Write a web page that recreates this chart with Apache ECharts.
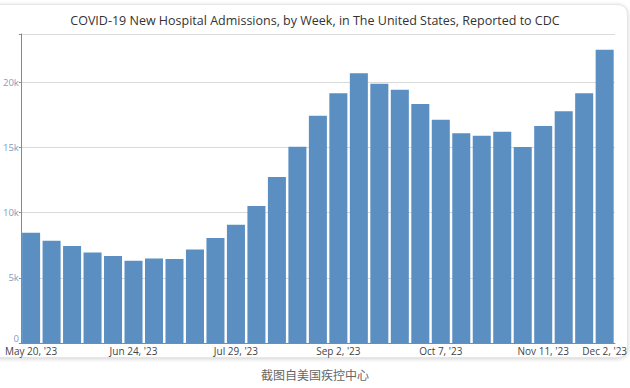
<!DOCTYPE html>
<html>
<head>
<meta charset="utf-8">
<script src="https://cdn.jsdelivr.net/npm/echarts@6/dist/echarts.min.js"></script>
<style>
  html, body { margin: 0; padding: 0; background: #fff; width: 630px; height: 388px; overflow: hidden; }
  #card { position: absolute; left: -12px; top: 4px; width: 638px; height: 352px; border-radius: 10px;
          background: #fff; box-shadow: 0 1px 4px rgba(0,0,0,0.18); border: 1px solid #e6e6e6; }
  #chart { position: absolute; left: 0; top: 0; width: 630px; height: 388px; }
</style>
</head>
<body>
<div id="card"></div>
<div id="chart"></div>
<script>
const titleText = "COVID-19 New Hospital Admissions, by Week, in The United States, Reported to CDC";
const captionText = "截图自美国疾控中心";
const weeks = ["May 20, '23","May 27, '23","Jun 3, '23","Jun 10, '23","Jun 17, '23","Jun 24, '23",
  "Jul 1, '23","Jul 8, '23","Jul 15, '23","Jul 22, '23","Jul 29, '23",
  "Aug 5, '23","Aug 12, '23","Aug 19, '23","Aug 26, '23","Sep 2, '23",
  "Sep 9, '23","Sep 16, '23","Sep 23, '23","Sep 30, '23","Oct 7, '23",
  "Oct 14, '23","Oct 21, '23","Oct 28, '23","Nov 4, '23","Nov 11, '23",
  "Nov 18, '23","Nov 25, '23","Dec 2, '23"];
const admissions = [8460, 7850, 7440, 6950, 6670, 6310, 6490, 6440, 7180, 8050, 9070,
  10500, 12730, 15050, 17430, 19150, 20680, 19890, 19430, 18330, 17120,
  16080, 15900, 16200, 15030, 16640, 17770, 19150, 22490];
const yTickLabels = ["0", "5k", "10k", "15k", "20k"];
const yMax = 23700;
const yStep = 5000;

const labelBase = { color: '#7f9cbf', fontFamily: 'Open Sans', fontSize: 9.5, margin: 2 };

const chart = echarts.init(document.getElementById('chart'), null, { renderer: 'svg' });
chart.setOption({
  animation: false,
  backgroundColor: 'transparent',
  title: [{
    text: titleText, left: 'center', top: 9,
    textStyle: { fontFamily: 'Open Sans', fontSize: 12.5, fontWeight: 'normal', color: '#333' }
  }, {
    text: captionText, left: 'center', top: 363,
    textStyle: { fontFamily: 'Noto Sans CJK SC', fontSize: 12, fontWeight: 'normal', color: '#666' }
  }],
  grid: { left: 18.5, right: 13.7, top: 34, bottom: 45, containLabel: false },
  xAxis: {
    type: 'category', data: weeks,
    axisLine: { lineStyle: { color: '#888' } },
    axisTick: { show: false },
    axisLabel: {
      interval: (i) => i % 5 === 0 || i === weeks.length - 1,
      color: '#444', fontFamily: 'Open Sans', fontSize: 10, margin: 3
    }
  },
  yAxis: [{
    type: 'value', min: 0, max: yMax, interval: yStep,
    axisLine: { show: true, lineStyle: { color: '#888' } },
    axisTick: { show: true, length: 2, lineStyle: { color: '#888' } },
    splitLine: { lineStyle: { color: '#d9d9d9' } },
    axisLabel: Object.assign({}, labelBase, {
      formatter: (v) => (v % yStep === 0 && v > 0 ? yTickLabels[v / yStep] : '')
    })
  }, {
    type: 'value', min: 0, max: yMax, interval: yStep, position: 'left',
    axisLine: { show: false }, axisTick: { show: false }, splitLine: { show: false },
    axisLabel: Object.assign({}, labelBase, {
      verticalAlign: 'bottom', lineHeight: 9,
      formatter: (v) => (v === 0 ? yTickLabels[0] : '')
    })
  }],
  series: [{
    type: 'bar', data: admissions, barCategoryGap: '12%', yAxisIndex: 0,
    itemStyle: { color: '#5b8fc2' }
  }]
});
</script>
</body>
</html>
